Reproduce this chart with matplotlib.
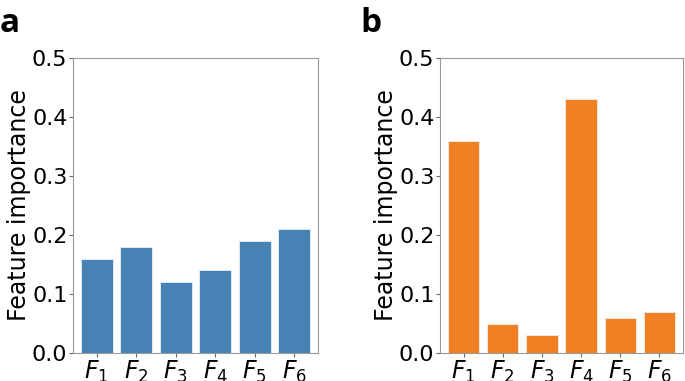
import matplotlib
matplotlib.use("Agg")
import matplotlib.pyplot as plt
import numpy as np

FEATURES = [r"$F_1$", r"$F_2$", r"$F_3$", r"$F_4$", r"$F_5$", r"$F_6$"]
IMP_A = [0.16, 0.18, 0.12, 0.14, 0.19, 0.21]
IMP_B = [0.36, 0.05, 0.03, 0.43, 0.06, 0.07]
YTICKS = [0.0, 0.1, 0.2, 0.3, 0.4, 0.5]

plt.rcParams["font.size"] = 16
plt.rcParams["mathtext.fontset"] = "dejavusans"

fig = plt.figure(figsize=(6.85, 3.81), dpi=100)
W, H = 685, 381
ax_a = fig.add_axes([73 / W, 1 - 353 / H, 245 / W, 295 / H])
ax_b = fig.add_axes([440 / W, 1 - 353 / H, 243 / W, 295 / H])

for ax, vals, color in [(ax_a, IMP_A, "#4682B4"), (ax_b, IMP_B, "#F28022")]:
    x = np.arange(len(FEATURES))
    ax.bar(x, vals, 0.8, color=color, edgecolor="#e8eef5", linewidth=0.6)
    ax.set_xticks(x)
    ax.set_xticklabels(FEATURES, fontsize=17)
    ax.set_yticks(YTICKS)
    ax.set_yticklabels([f"{t:.1f}" for t in YTICKS], fontsize=16)
    ax.set_ylim(0, 0.5)
    ax.set_xlim(-0.6, 5.6)
    ax.set_ylabel("Feature importance", fontsize=17, labelpad=1)
    for s in ax.spines.values():
        s.set_color("#999999")
    ax.tick_params(length=3, pad=1, color="#666666")

fig.text(0 / W, 1 - 32 / H, "a", fontsize=24, fontweight="bold", family="Open Sans")
fig.text(360 / W, 1 - 32 / H, "b", fontsize=24, fontweight="bold", family="Open Sans")

fig.savefig("out.png", dpi=100)
